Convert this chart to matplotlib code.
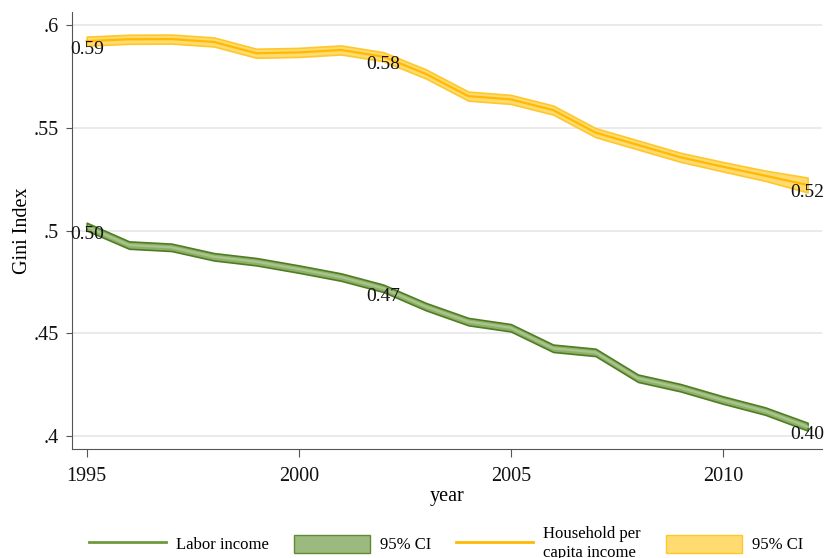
import matplotlib

matplotlib.use("Agg")
import matplotlib.pyplot as plt
from matplotlib.lines import Line2D
from matplotlib.patches import Patch

years = list(range(1995, 2013))

household = [0.5923, 0.5932, 0.5933, 0.5919, 0.5864, 0.5868, 0.5880, 0.5847, 0.5763,
             0.5655, 0.5639, 0.5587, 0.5477, 0.5417, 0.5357, 0.5311, 0.5267, 0.5222]
household_ci = [0.0022, 0.0022, 0.0022, 0.0022, 0.0022, 0.0022, 0.0022, 0.0022, 0.0022,
                0.0022, 0.0022, 0.0022, 0.0022, 0.0022, 0.0022, 0.0023, 0.0025, 0.0036]

labor = [0.5019, 0.4929, 0.4918, 0.4872, 0.4848, 0.4812, 0.4773, 0.4718, 0.4629,
         0.4556, 0.4526, 0.4426, 0.4406, 0.4280, 0.4234, 0.4174, 0.4120, 0.4044]
labor_ci = [0.0019, 0.0018, 0.0018, 0.0018, 0.0018, 0.0018, 0.0018, 0.0018, 0.0018,
            0.0018, 0.0018, 0.0018, 0.0018, 0.0018, 0.0018, 0.0018, 0.0018, 0.0019]

label_years = [1995, 2002, 2012]

y_ticks = [0.4, 0.45, 0.5, 0.55, 0.6]
y_tick_labels = [".4", ".45", ".5", ".55", ".6"]
x_ticks = [1995, 2000, 2005, 2010]

GREEN_LINE = "#6f9a3c"
GREEN_FILL = "#8fb06b"
GREEN_EDGE = "#4f7d22"
GOLD_LINE = "#ffb900"
GOLD_FILL = "#ffdb72"
GOLD_EDGE = "#ffc72a"

plt.rcParams["font.family"] = ["Liberation Serif", "DejaVu Serif"]

fig = plt.figure(figsize=(8.25, 5.58), dpi=100)
ax = fig.add_axes([0.0876, 0.1953, 0.9088, 0.7832])

for ys, ci, fill, edge, line in [
    (labor, labor_ci, GREEN_FILL, GREEN_EDGE, "#a9c58c"),
    (household, household_ci, GOLD_FILL, GOLD_EDGE, GOLD_LINE),
]:
    lo = [v - c for v, c in zip(ys, ci)]
    hi = [v + c for v, c in zip(ys, ci)]
    ax.fill_between(years, lo, hi, facecolor=fill, edgecolor=edge, linewidth=1.2, zorder=2)
    ax.plot(years, ys, color=line, linewidth=1.6, zorder=3)
    for yr in label_years:
        v = ys[years.index(yr)]
        ax.annotate(f"{v:.2f}", (yr, v), xytext=(0, -8), textcoords="offset pixels",
                    ha="center", va="center", fontsize=14, color="#111111", zorder=4)

ax.set_xlim(1994.66, 2012.34)
ax.set_ylim(0.3935, 0.6065)
ax.set_xticks(x_ticks)
ax.set_yticks(y_ticks)
ax.set_yticklabels(y_tick_labels)
ax.tick_params(axis="both", labelsize=14.5, color="#555555", labelcolor="#111111")
ax.tick_params(axis="x", length=5.5, pad=7.5)
ax.tick_params(axis="y", length=4, pad=6)
ax.grid(axis="y", color="#e6e6e6", linewidth=1.2)
ax.set_axisbelow(True)
for side in ["top", "right"]:
    ax.spines[side].set_visible(False)
for side in ["left", "bottom"]:
    ax.spines[side].set_color("#555555")
ax.set_xlabel("year", fontsize=14.5, labelpad=1)
ax.set_ylabel("Gini Index", fontsize=14.5, labelpad=1)

handles = [
    Line2D([], [], color=GREEN_LINE, linewidth=2),
    Patch(facecolor="#9cba7f", edgecolor="#5f8c30", linewidth=1),
    Line2D([], [], color=GOLD_LINE, linewidth=2),
    Patch(facecolor=GOLD_FILL, edgecolor=GOLD_EDGE, linewidth=1),
]
names = ["Labor income", "95% CI", "Household per\ncapita income", "95% CI"]
fig.legend(handles, names, loc="center", bbox_to_anchor=(0.541, 0.026), ncol=4,
           frameon=False, fontsize=12, handlelength=4.6, handleheight=1.3,
           handletextpad=0.6, columnspacing=1.5)

fig.savefig("out.png", dpi=100)
